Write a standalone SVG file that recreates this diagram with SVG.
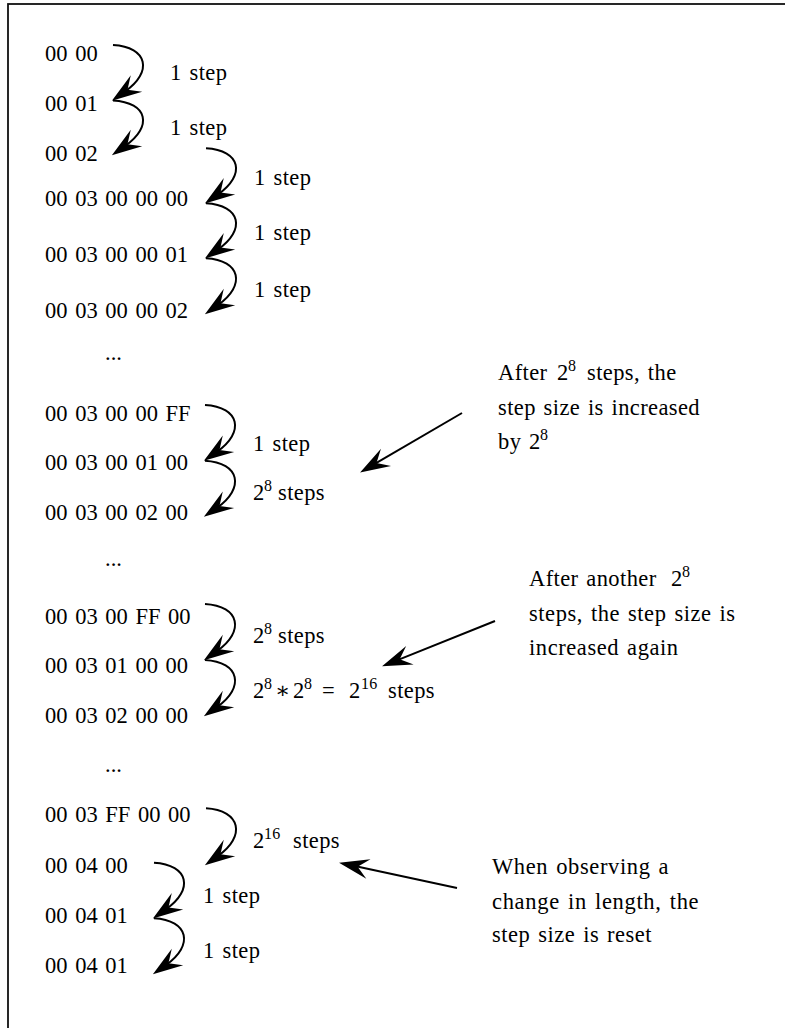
<svg xmlns="http://www.w3.org/2000/svg" width="785" height="1028" viewBox="0 0 785 1028">
  <style>
    text { font-family: "Liberation Serif", "Times New Roman", "DejaVu Serif", serif; font-size: 22.5px; fill: #000; }
    .hex { letter-spacing: 0px; word-spacing: 2px; }
    .lbl { letter-spacing: 0.4px; word-spacing: 1.8px; }
    .sup { font-size: 16px; letter-spacing: 0.3px; }
    .arc { fill: none; stroke: #000; stroke-width: 2; marker-end: url(#stealth); }
    .frame { fill: none; stroke: #111; stroke-width: 1.8; }
  </style>
  <defs>
    <!-- stealth-style arrowhead; ref point sits 3px ahead of the notch -->
    <marker id="stealth" viewBox="-14 -12 36 24" markerWidth="36" markerHeight="24" refX="3" refY="0" orient="auto" markerUnits="userSpaceOnUse" overflow="visible">
      <path d="M19,0 L-11,-10 L0,0 L-11,10 Z" fill="#000"/>
    </marker>
  </defs>

  <rect class="frame" x="8" y="4" width="800" height="1100"/>

  <!-- counter values -->
  <g id="n-0000"><text class="hex" x="45" y="61">00 00</text></g>
  <g id="n-0001"><text class="hex" x="45" y="110.5">00 01</text></g>
  <g id="n-0002"><text class="hex" x="45" y="161">00 02</text></g>
  <g id="n-0003000000"><text class="hex" x="45" y="205.5">00 03 00 00 00</text></g>
  <g id="n-0003000001"><text class="hex" x="45" y="261.5">00 03 00 00 01</text></g>
  <g id="n-0003000002"><text class="hex" x="45" y="317.5">00 03 00 00 02</text></g>
  <g id="n-dots1"><text class="hex" x="105" y="360">...</text></g>
  <g id="n-00030000FF"><text class="hex" x="45" y="421">00 03 00 00 FF</text></g>
  <g id="n-0003000100"><text class="hex" x="45" y="470">00 03 00 01 00</text></g>
  <g id="n-0003000200"><text class="hex" x="45" y="520">00 03 00 02 00</text></g>
  <g id="n-dots2"><text class="hex" x="105" y="566">...</text></g>
  <g id="n-000300FF00"><text class="hex" x="45" y="624">00 03 00 FF 00</text></g>
  <g id="n-0003010000"><text class="hex" x="45" y="673">00 03 01 00 00</text></g>
  <g id="n-0003020000"><text class="hex" x="45" y="722.5">00 03 02 00 00</text></g>
  <g id="n-dots3"><text class="hex" x="105" y="772">...</text></g>
  <g id="n-0003FF0000"><text class="hex" x="45" y="822">00 03 FF 00 00</text></g>
  <g id="n-000400"><text class="hex" x="45" y="872.5">00 04 00</text></g>
  <g id="n-000401a"><text class="hex" x="45" y="923">00 04 01</text></g>
  <g id="n-000401b"><text class="hex" x="45" y="973">00 04 01</text></g>

  <!-- step labels -->
  <g id="labels">
    <text class="lbl" x="170" y="80">1 step</text>
    <text class="lbl" x="170" y="135">1 step</text>
    <text class="lbl" x="254" y="185">1 step</text>
    <text class="lbl" x="254" y="240">1 step</text>
    <text class="lbl" x="254" y="297">1 step</text>
    <text class="lbl" x="253" y="451">1 step</text>
    <text class="lbl" x="253" y="500">2<tspan class="sup" x="264" y="491">8</tspan><tspan x="278" y="500">steps</tspan></text>
    <text class="lbl" x="253" y="643">2<tspan class="sup" x="264" y="634">8</tspan><tspan x="278" y="643">steps</tspan></text>
    <text class="lbl" x="253" y="698">2<tspan class="sup" x="264" y="689">8</tspan><tspan x="275" y="698">∗</tspan><tspan x="293" y="698">2</tspan><tspan class="sup" x="304" y="689">8</tspan><tspan x="322" y="698">=</tspan><tspan x="349" y="698">2</tspan><tspan class="sup" x="361" y="689">16</tspan><tspan x="388" y="698">steps</tspan></text>
    <text class="lbl" x="253" y="848">2<tspan class="sup" x="264" y="839">16</tspan><tspan x="293" y="848">steps</tspan></text>
    <text class="lbl" x="203" y="903">1 step</text>
    <text class="lbl" x="203" y="958">1 step</text>
  </g>

  <!-- annotations -->
  <g id="note-increase">
    <text class="lbl" x="498" y="380">After<tspan x="557">2</tspan><tspan class="sup" x="568" y="371">8</tspan><tspan x="587" y="380">steps, the</tspan></text>
    <text class="lbl" x="498" y="414.5" textLength="202" lengthAdjust="spacing">step size is increased</text>
    <text class="lbl" x="498" y="449">by<tspan x="529">2</tspan><tspan class="sup" x="540" y="440">8</tspan></text>
  </g>
  <g id="note-again">
    <text class="lbl" x="529" y="585.5">After another<tspan x="671">2</tspan><tspan class="sup" x="682" y="577">8</tspan></text>
    <text class="lbl" x="529" y="620.5" textLength="206.5" lengthAdjust="spacing">steps, the step size is</text>
    <text class="lbl" x="529" y="654.5" textLength="149.5" lengthAdjust="spacing">increased again</text>
  </g>
  <g id="note-reset">
    <text class="lbl" x="492" y="873.5" textLength="177" lengthAdjust="spacing">When observing a</text>
    <text class="lbl" x="492" y="908.5" textLength="207" lengthAdjust="spacing">change in length, the</text>
    <text class="lbl" x="492" y="942" textLength="160" lengthAdjust="spacing">step size is reset</text>
  </g>

  <!-- connectors -->
  <g id="connectors">
    <path class="arc" d="M113 45 C148 47, 153 72, 125 91.5"/>
    <path class="arc" d="M113 100.5 C148 102.5, 153 126.5, 125 146"/>
    <path class="arc" d="M206 148.3 C241 150.3, 246 174.8, 218 194.3"/>
    <path class="arc" d="M206 203.3 C241 205.3, 246 229.8, 218 249.3"/>
    <path class="arc" d="M206 258.3 C241 260.3, 246 285.5, 218 305"/>
    <path class="arc" d="M205 405 C240 407, 245 432.2, 217 451.7"/>
    <path class="arc" d="M205 460.7 C240 462.7, 245 488.2, 217 507.7"/>
    <path class="arc" d="M205 604 C240 606, 245 631.5, 217 651"/>
    <path class="arc" d="M205 660 C240 662, 245 687.5, 217 707"/>
    <path class="arc" d="M206 808.3 C241 810.3, 246 836.5, 218 856"/>
    <path class="arc" d="M154 862.7 C189 864.7, 194 889.8, 166 909.3"/>
    <path class="arc" d="M154 918.3 C189 920.3, 194 945.5, 166 965"/>
    <path class="arc" d="M462 413 L373.9 464.4"/>
    <path class="arc" d="M495 621 L396.9 660.4"/>
    <path class="arc" d="M457 888 L354.7 866.1"/>
  </g>
</svg>
